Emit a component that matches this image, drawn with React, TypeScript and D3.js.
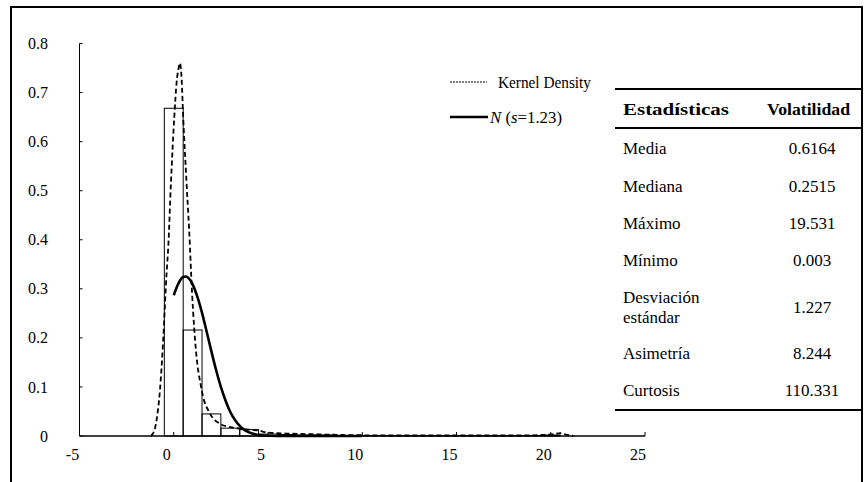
import { useEffect, useRef } from 'react'
import * as d3 from 'd3'

// histogram bins (centre of each unit-wide bin) and their density
const binCenters = [0, 1, 2, 3, 4, 5, 6, 7, 8, 9, 10, 11, 12, 13, 14, 15, 16, 17, 18, 19, 20]
const binDensity = [0.668, 0.216, 0.045, 0.016, 0.013, 0.004, 0.003, 0.002, 0.002, 0.001, 0.001, 0.001, 0.001, 0.001, 0.001, 0.001, 0.001, 0.001, 0.001, 0.001, 0.002]

// kernel density
const kernelX = [-1.2, -1.14, -1.0, -0.91, -0.73, -0.56, -0.38, -0.29, -0.15, 0.03, 0.15, 0.25, 0.33, 0.42, 0.5, 0.68, 0.86, 0.92, 1.13, 1.48, 1.92, 2.5, 3.0, 3.5, 4.0, 4.5, 5, 6, 7, 8, 9, 10, 12, 14, 16, 18, 19.5, 20.2, 20.5, 20.8, 21.2]
const kernelY = [0, 0.003, 0.015, 0.033, 0.094, 0.196, 0.332, 0.386, 0.515, 0.651, 0.72, 0.748, 0.76, 0.725, 0.651, 0.515, 0.386, 0.332, 0.196, 0.094, 0.046, 0.024, 0.018, 0.015, 0.013, 0.011, 0.007, 0.005, 0.004, 0.003, 0.002, 0.0015, 0.001, 0.001, 0.001, 0.001, 0.002, 0.004, 0.006, 0.003, 0]

// normal curve (solid line)
const normalX = [0, 0.25, 0.5, 0.6164, 0.75, 1, 1.25, 1.5, 1.75, 2, 2.25, 2.5, 2.75, 3, 3.25, 3.5, 3.75, 4, 4.5, 5, 6, 8, 10]
const normalY = [0.287, 0.311, 0.324, 0.325, 0.323, 0.309, 0.284, 0.251, 0.212, 0.172, 0.134, 0.1, 0.072, 0.049, 0.0325, 0.0205, 0.0125, 0.0073, 0.0022, 0.0006, 0, 0, 0]

const xTicks = [-5, 0, 5, 10, 15, 20, 25]
const yTicks = [0, 0.1, 0.2, 0.3, 0.4, 0.5, 0.6, 0.7, 0.8]

const statNames = ['Media', 'Mediana', 'Máximo', 'Mínimo', 'Desviación estándar', 'Asimetría', 'Curtosis']
const statValues = ['0.6164', '0.2515', '19.531', '0.003', '1.227', '8.244', '110.331']

const FONT = '"Liberation Serif", "Times New Roman", serif'

export default function App() {
    const svgRef = useRef<SVGSVGElement>(null)

    useEffect(() => {
        if (!svgRef.current) return
        const svg = d3.select(svgRef.current)
        const width = 865
        const height = 482
        svg.attr('width', width).attr('height', height)
        svg.selectAll('*').remove()

        svg.append('rect')
            .attr('x', 0).attr('y', 0).attr('width', width).attr('height', height)
            .attr('fill', '#fff')

        // outer frame
        svg.append('rect')
            .attr('x', 11).attr('y', 7).attr('width', 851).attr('height', 500)
            .attr('fill', 'none').attr('stroke', '#000').attr('stroke-width', 2)

        const x = d3.scaleLinear().domain([-5, 25]).range([79.5, 645])
        const y = d3.scaleLinear().domain([0, 0.8]).range([436, 43.5])

        // bars
        svg.selectAll('.bar')
            .data(binCenters)
            .enter()
            .append('rect')
            .attr('class', 'bar')
            .attr('x', d => x(d - 0.5))
            .attr('y', (d, i) => y(binDensity[i]))
            .attr('width', x(1) - x(0))
            .attr('height', (d, i) => y(0) - y(binDensity[i]))
            .attr('fill', 'none')
            .attr('stroke', '#000')
            .attr('stroke-width', 1)

        // axes
        svg.append('line')
            .attr('x1', x(-5)).attr('x2', x(-5)).attr('y1', y(0.8)).attr('y2', y(0))
            .attr('stroke', '#000').attr('stroke-width', 1)
        svg.append('line')
            .attr('x1', x(-5)).attr('x2', x(25)).attr('y1', y(0)).attr('y2', y(0))
            .attr('stroke', '#000').attr('stroke-width', 1.3)

        svg.selectAll('.ytick')
            .data(yTicks)
            .enter()
            .append('line')
            .attr('x1', x(-5)).attr('x2', x(-5) + 3)
            .attr('y1', d => y(d)).attr('y2', d => y(d))
            .attr('stroke', '#000')
        svg.selectAll('.ylabel')
            .data(yTicks)
            .enter()
            .append('text')
            .attr('x', 48)
            .attr('y', d => y(d))
            .attr('dy', '0.35em')
            .attr('text-anchor', 'end')
            .attr('font-family', FONT)
            .attr('font-size', 16)
            .text(d => (d === 0 ? '0' : d.toFixed(1)))

        svg.selectAll('.xtick')
            .data(xTicks)
            .enter()
            .append('line')
            .attr('x1', d => x(d)).attr('x2', d => x(d))
            .attr('y1', y(0)).attr('y2', y(0) - 4)
            .attr('stroke', '#000')
        svg.selectAll('.xlabel')
            .data(xTicks)
            .enter()
            .append('text')
            .attr('x', d => x(d) - 7)
            .attr('y', 454)
            .attr('dy', '0.35em')
            .attr('text-anchor', 'middle')
            .attr('font-family', FONT)
            .attr('font-size', 16)
            .text(d => d)

        // curves
        const kernel = kernelX.map((v, i) => [v, kernelY[i]] as [number, number])
        const normal = normalX.map((v, i) => [v, normalY[i]] as [number, number])
        const line = d3.line<[number, number]>()
            .x(d => x(d[0]))
            .y(d => y(d[1]))
            .curve(d3.curveMonotoneX)

        svg.append('path')
            .datum(kernel)
            .attr('fill', 'none')
            .attr('stroke', '#000')
            .attr('stroke-width', 1.8)
            .attr('stroke-dasharray', '5,3')
            .attr('d', line)

        svg.append('path')
            .datum(normal)
            .attr('fill', 'none')
            .attr('stroke', '#000')
            .attr('stroke-width', 2.6)
            .attr('d', line)

        // legend
        const legend = svg.append('g')
        legend.append('line')
            .attr('x1', 450).attr('x2', 487).attr('y1', 82).attr('y2', 82)
            .attr('stroke', '#000').attr('stroke-width', 1)
            .attr('stroke-dasharray', '2,1')
        legend.append('text')
            .attr('x', 498).attr('y', 82).attr('dy', '0.35em')
            .attr('font-family', FONT).attr('font-size', 17)
            .attr('textLength', 93).attr('lengthAdjust', 'spacingAndGlyphs')
            .text('Kernel Density')
        legend.append('line')
            .attr('x1', 450).attr('x2', 488).attr('y1', 117).attr('y2', 117)
            .attr('stroke', '#000').attr('stroke-width', 2.4)
        const nText = legend.append('text')
            .attr('x', 490).attr('y', 117).attr('dy', '0.35em')
            .attr('font-family', FONT).attr('font-size', 17)
            .attr('textLength', 72).attr('lengthAdjust', 'spacingAndGlyphs')
        nText.append('tspan').attr('font-style', 'italic').text('N')
        nText.append('tspan').text(' (')
        nText.append('tspan').attr('font-style', 'italic').text('s')
        nText.append('tspan').text('=1.23)')

        // statistics table
        const table = svg.append('g')
        const tLeft = 615
        const tRight = 862
        const valueX = 812
        table.append('line')
            .attr('x1', tLeft).attr('x2', tRight).attr('y1', 89).attr('y2', 89)
            .attr('stroke', '#000').attr('stroke-width', 2)
        table.append('line')
            .attr('x1', tLeft).attr('x2', tRight).attr('y1', 128).attr('y2', 128)
            .attr('stroke', '#000').attr('stroke-width', 2)
        table.append('line')
            .attr('x1', tLeft).attr('x2', tRight).attr('y1', 410).attr('y2', 410)
            .attr('stroke', '#000').attr('stroke-width', 2)

        table.append('text')
            .attr('x', 623).attr('y', 109).attr('dy', '0.35em')
            .attr('font-family', FONT).attr('font-size', 17).attr('font-weight', 'bold')
            .attr('textLength', 106).attr('lengthAdjust', 'spacingAndGlyphs')
            .text('Estadísticas')
        table.append('text')
            .attr('x', 767).attr('y', 109).attr('dy', '0.35em')
            .attr('font-family', FONT).attr('font-size', 17).attr('font-weight', 'bold')
            .attr('textLength', 83).attr('lengthAdjust', 'spacingAndGlyphs')
            .text('Volatilidad')

        const rowY = [148.5, 186, 223, 260.5, 307, 353.5, 390.5]
        statNames.forEach((name, i) => {
            if (name.includes(' ')) {
                const parts = name.split(' ')
                parts.forEach((p, j) => {
                    table.append('text')
                        .attr('x', 623).attr('y', rowY[i] - 10 + j * 20).attr('dy', '0.35em')
                        .attr('font-family', FONT).attr('font-size', 17)
                        .text(p)
                })
            } else {
                table.append('text')
                    .attr('x', 623).attr('y', rowY[i]).attr('dy', '0.35em')
                    .attr('font-family', FONT).attr('font-size', 17)
                    .text(name)
            }
            table.append('text')
                .attr('x', valueX).attr('y', rowY[i]).attr('dy', '0.35em')
                .attr('text-anchor', 'middle')
                .attr('font-family', FONT).attr('font-size', 17)
                .text(statValues[i])
        })
    }, [])

    return <svg ref={svgRef} style={{ position: 'absolute', left: 0, top: 0 }} />
}
